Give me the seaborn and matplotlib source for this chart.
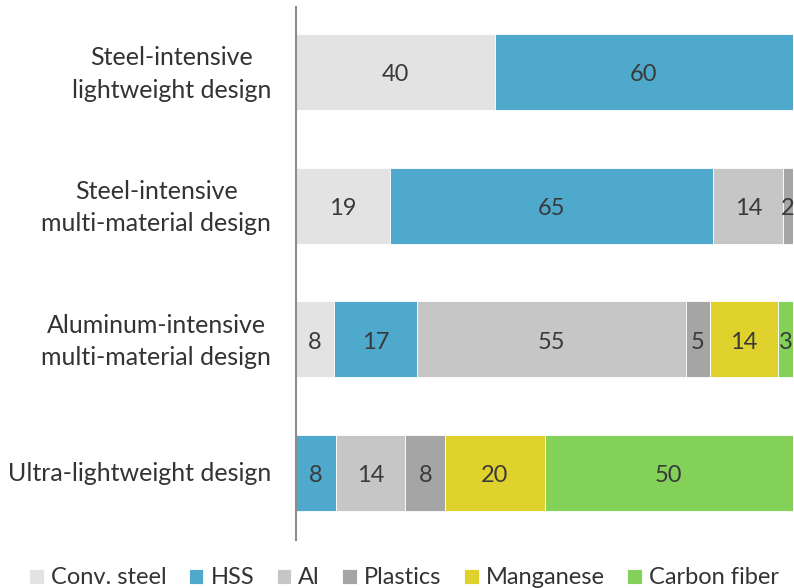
import numpy as np
import pandas as pd
import matplotlib
matplotlib.use("Agg")
import matplotlib.pyplot as plt
import seaborn as sns

sns.set_theme(style="white")
plt.rcParams["font.family"] = ["Lato", "DejaVu Sans"]

designs = ["Steel-intensive\nlightweight design",
           "Steel-intensive\nmulti-material design",
           "Aluminum-intensive\nmulti-material design",
           "Ultra-lightweight design"]
materials = ["Conv. steel", "HSS", "Al", "Plastics", "Manganese", "Carbon fiber"]
colors = ["#e3e3e3", "#4fa9cd", "#c6c6c6", "#a5a5a5", "#e0d22c", "#84d15a"]

# segment widths (share in %)
conv_steel = [40, 19, 7.6, 0]
hss = [60, 65, 16.7, 8]
al = [0, 14, 54.1, 14]
plastics = [0, 2, 4.8, 8]
manganese = [0, 0, 13.8, 20]
carbon = [0, 0, 3.0, 50]

# printed labels
lab_conv = ["40", "19", "8", ""]
lab_hss = ["60", "65", "17", "8"]
lab_al = ["", "14", "55", "14"]
lab_plastics = ["", "2", "5", "8"]
lab_mang = ["", "", "14", "20"]
lab_carbon = ["", "", "3", "50"]

df = pd.DataFrame({m: v for m, v in zip(materials, [conv_steel, hss, al, plastics, manganese, carbon])},
                  index=designs)
labels = pd.DataFrame({m: v for m, v in zip(materials, [lab_conv, lab_hss, lab_al, lab_plastics, lab_mang, lab_carbon])},
                      index=designs)

fig = plt.figure(figsize=(7.94, 5.88), dpi=100)
ax = fig.add_axes([296 / 794, 48 / 588, 497 / 794, 533 / 588])

ypos = np.arange(len(designs))
left = np.zeros(len(designs))
for mat, col in zip(materials, colors):
    vals = df[mat].values
    bars = ax.barh(ypos, vals, left=left, height=0.57, color=col,
                   edgecolor="white", linewidth=0.6, label=mat)
    for i, b in enumerate(bars):
        txt = labels[mat].iloc[i]
        if txt:
            ax.text(left[i] + vals[i] / 2, ypos[i] + 0.02, txt, ha="center", va="center",
                    fontsize=17, color="#3a3a3a")
    left += vals

ax.set_xlim(0, 100)
ax.set_ylim(3.5, -0.485)
ax.set_xticks([])
ax.set_yticks(ypos)
ax.set_yticklabels([])
ax.tick_params(axis="y", length=0)

# category names, drawn as text so the two-line ones sit where the reference has them
for y, name in zip(ypos, designs):
    dy = 0.015 if "\n" in name else 0
    ax.text(-25 / 497, y + dy, name, transform=ax.get_yaxis_transform(),
            ha="right", va="center", multialignment="center",
            fontsize=18, color="#333333", linespacing=1.5)

for s in ["top", "right", "bottom"]:
    ax.spines[s].set_visible(False)
ax.spines["left"].set_color("#8c8c8c")
ax.spines["left"].set_linewidth(1.5)

fig.legend(loc="center left", bbox_to_anchor=(29 / 794, 1 - 578 / 588), ncol=6, frameon=False,
           fontsize=17, handlelength=0.62, handleheight=0.62, handletextpad=0.3,
           columnspacing=0.95, labelcolor="#333333", borderaxespad=0, borderpad=0)

fig.savefig("out.png", dpi=100)
